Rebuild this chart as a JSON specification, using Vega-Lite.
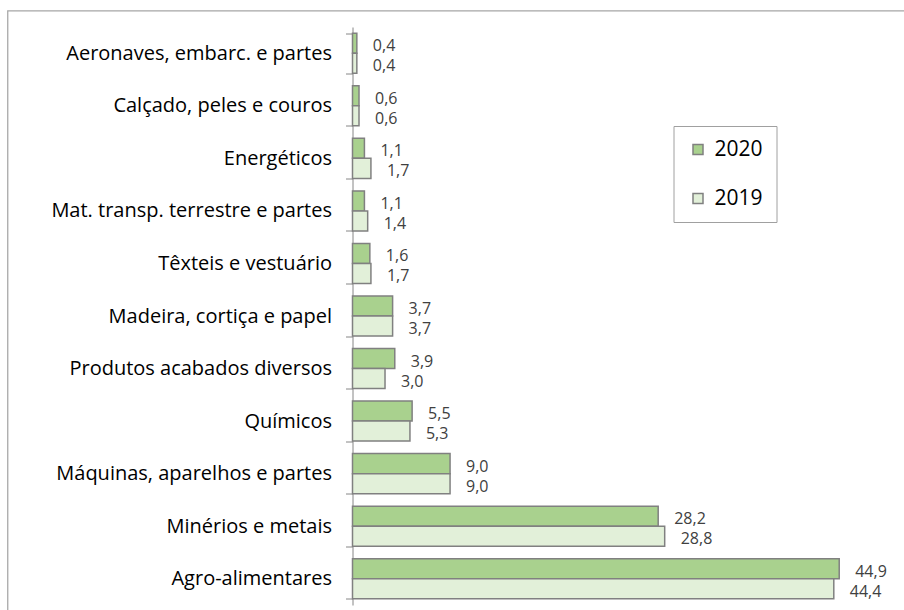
{
  "$schema": "https://vega.github.io/schema/vega-lite/v6.json",
  "width": 904,
  "height": 610,
  "autosize": {"type": "none"},
  "padding": {"left": 7.5, "top": 10.5, "right": 0, "bottom": 0},
  "config": {
    "view": {"stroke": "#a6a6a6", "strokeWidth": 1.25},
    "locale": {"number": {"decimal": ",", "thousands": ".", "grouping": [3], "currency": ["", ""]}},
    "font": "Open Sans"
  },
  "data": {
    "values": [
      {"cat": "Aeronaves, embarc. e partes", "year": "2020", "value": 0.4},
      {"cat": "Aeronaves, embarc. e partes", "year": "2019", "value": 0.4},
      {"cat": "Calçado, peles e couros", "year": "2020", "value": 0.6},
      {"cat": "Calçado, peles e couros", "year": "2019", "value": 0.6},
      {"cat": "Energéticos", "year": "2020", "value": 1.1},
      {"cat": "Energéticos", "year": "2019", "value": 1.7},
      {"cat": "Mat. transp. terrestre e partes", "year": "2020", "value": 1.1},
      {"cat": "Mat. transp. terrestre e partes", "year": "2019", "value": 1.4},
      {"cat": "Têxteis e vestuário", "year": "2020", "value": 1.6},
      {"cat": "Têxteis e vestuário", "year": "2019", "value": 1.7},
      {"cat": "Madeira, cortiça e papel", "year": "2020", "value": 3.7},
      {"cat": "Madeira, cortiça e papel", "year": "2019", "value": 3.7},
      {"cat": "Produtos acabados diversos", "year": "2020", "value": 3.9},
      {"cat": "Produtos acabados diversos", "year": "2019", "value": 3.0},
      {"cat": "Químicos", "year": "2020", "value": 5.5},
      {"cat": "Químicos", "year": "2019", "value": 5.3},
      {"cat": "Máquinas, aparelhos e partes", "year": "2020", "value": 9.0},
      {"cat": "Máquinas, aparelhos e partes", "year": "2019", "value": 9.0},
      {"cat": "Minérios e metais", "year": "2020", "value": 28.2},
      {"cat": "Minérios e metais", "year": "2019", "value": 28.8},
      {"cat": "Agro-alimentares", "year": "2020", "value": 44.9},
      {"cat": "Agro-alimentares", "year": "2019", "value": 44.4}
    ]
  },
  "encoding": {
    "y": {
      "field": "cat", "type": "nominal", "sort": null,
      "scale": {"range": [16.5, 594.5], "paddingInner": 0.238, "paddingOuter": 0.119},
      "axis": {
        "title": null, "offset": -345, "tickBand": "extent", "tickSize": 7,
        "labelPadding": 14, "labelFontSize": 20, "labelFont": "Open Sans",
        "labelColor": "#000000", "domainColor": "#868686", "tickColor": "#868686",
        "labelLimit": 400
      }
    },
    "yOffset": {
      "field": "year", "type": "nominal", "sort": ["2020", "2019"],
      "scale": {"paddingInner": 0, "paddingOuter": 0}
    },
    "x": {
      "field": "value", "type": "quantitative",
      "scale": {"domain": [0, 50], "range": [345, 887]},
      "axis": null
    }
  },
  "layer": [
    {
      "mark": {"type": "bar", "stroke": "#808080", "strokeWidth": 1.5},
      "encoding": {
        "color": {
          "field": "year", "type": "nominal", "sort": ["2020", "2019"],
          "scale": {"range": ["#a9d18e", "#e2f0d9"]},
          "legend": {
            "title": null, "orient": "none", "legendX": 666, "legendY": 115.5,
            "padding": 13, "symbolOffset": 1, "rowPadding": 27,
            "symbolType": "square", "symbolSize": 100,
            "symbolStrokeColor": "#808080", "symbolStrokeWidth": 1.5,
            "labelFontSize": 21, "labelFont": "Open Sans", "labelColor": "#000000",
            "labelOffset": 6, "strokeColor": "#a0a0a0", "fillColor": "#ffffff"
          }
        }
      }
    },
    {
      "mark": {"type": "text", "align": "left", "baseline": "middle", "dx": 16, "dy": 3, "fontSize": 16, "color": "#404040", "font": "Open Sans"},
      "encoding": {
        "text": {"field": "value", "type": "quantitative", "format": ".1f"}
      }
    }
  ]
}
